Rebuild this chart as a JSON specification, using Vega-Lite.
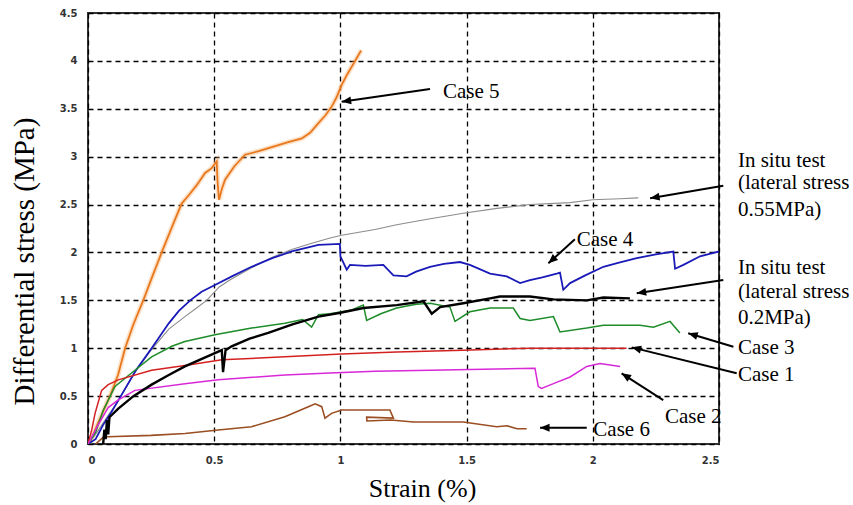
{
  "$schema": "https://vega.github.io/schema/vega-lite/v6.json",
  "width": 631,
  "height": 431,
  "autosize": {"type": "none"},
  "padding": {"left": 88, "top": 13, "right": 134, "bottom": 61},
  "background": "white",
  "config": {
    "view": {"stroke": "#333333", "strokeWidth": 2},
    "axis": {
      "grid": true,
      "gridColor": "#000000",
      "gridDash": [5, 4],
      "gridWidth": 1.3,
      "gridOpacity": 1,
      "domain": false,
      "ticks": false,
      "labelFont": "DejaVu Sans",
      "labelFontWeight": "bold",
      "labelFontSize": 10,
      "labelColor": "#333333",
      "titleFont": "Liberation Serif",
      "titleFontWeight": "normal",
      "titleColor": "#000000"
    }
  },
  "datasets": {
    "curves": [
      {"s": "Case 5", "i": 1, "x": 0, "y": 0}, {"s": "Case 5", "i": 2, "x": 0.008, "y": 0.02}, {"s": "Case 5", "i": 3, "x": 0.04, "y": 0.22}, {"s": "Case 5", "i": 4, "x": 0.087, "y": 0.5}, {"s": "Case 5", "i": 5, "x": 0.119, "y": 0.72}, {"s": "Case 5", "i": 6, "x": 0.147, "y": 1.0}, {"s": "Case 5", "i": 7, "x": 0.18, "y": 1.25}, {"s": "Case 5", "i": 8, "x": 0.219, "y": 1.5}, {"s": "Case 5", "i": 9, "x": 0.255, "y": 1.75}, {"s": "Case 5", "i": 10, "x": 0.292, "y": 2.0}, {"s": "Case 5", "i": 11, "x": 0.338, "y": 2.3}, {"s": "Case 5", "i": 12, "x": 0.371, "y": 2.51}, {"s": "Case 5", "i": 13, "x": 0.4, "y": 2.6}, {"s": "Case 5", "i": 14, "x": 0.43, "y": 2.7}, {"s": "Case 5", "i": 15, "x": 0.464, "y": 2.83}, {"s": "Case 5", "i": 16, "x": 0.49, "y": 2.88}, {"s": "Case 5", "i": 17, "x": 0.51, "y": 2.95}, {"s": "Case 5", "i": 18, "x": 0.513, "y": 2.75}, {"s": "Case 5", "i": 19, "x": 0.519, "y": 2.55}, {"s": "Case 5", "i": 20, "x": 0.53, "y": 2.66}, {"s": "Case 5", "i": 21, "x": 0.543, "y": 2.76}, {"s": "Case 5", "i": 22, "x": 0.58, "y": 2.9}, {"s": "Case 5", "i": 23, "x": 0.622, "y": 3.02}, {"s": "Case 5", "i": 24, "x": 0.68, "y": 3.06}, {"s": "Case 5", "i": 25, "x": 0.728, "y": 3.1}, {"s": "Case 5", "i": 26, "x": 0.79, "y": 3.15}, {"s": "Case 5", "i": 27, "x": 0.847, "y": 3.19}, {"s": "Case 5", "i": 28, "x": 0.88, "y": 3.25}, {"s": "Case 5", "i": 29, "x": 0.913, "y": 3.35}, {"s": "Case 5", "i": 30, "x": 0.94, "y": 3.43}, {"s": "Case 5", "i": 31, "x": 0.965, "y": 3.52}, {"s": "Case 5", "i": 32, "x": 0.985, "y": 3.62}, {"s": "Case 5", "i": 33, "x": 1.005, "y": 3.75}, {"s": "Case 5", "i": 34, "x": 1.025, "y": 3.85}, {"s": "Case 5", "i": 35, "x": 1.045, "y": 3.94}, {"s": "Case 5", "i": 36, "x": 1.065, "y": 4.03}, {"s": "Case 5", "i": 37, "x": 1.082, "y": 4.11},

      {"s": "In situ 0.55", "i": 1, "x": 0, "y": 0}, {"s": "In situ 0.55", "i": 2, "x": 0.03, "y": 0.1}, {"s": "In situ 0.55", "i": 3, "x": 0.08, "y": 0.3}, {"s": "In situ 0.55", "i": 4, "x": 0.12, "y": 0.45}, {"s": "In situ 0.55", "i": 5, "x": 0.18, "y": 0.73}, {"s": "In situ 0.55", "i": 6, "x": 0.25, "y": 0.98}, {"s": "In situ 0.55", "i": 7, "x": 0.32, "y": 1.2}, {"s": "In situ 0.55", "i": 8, "x": 0.384, "y": 1.33}, {"s": "In situ 0.55", "i": 9, "x": 0.43, "y": 1.42}, {"s": "In situ 0.55", "i": 10, "x": 0.47, "y": 1.5}, {"s": "In situ 0.55", "i": 11, "x": 0.52, "y": 1.64}, {"s": "In situ 0.55", "i": 12, "x": 0.56, "y": 1.71}, {"s": "In situ 0.55", "i": 13, "x": 0.648, "y": 1.84}, {"s": "In situ 0.55", "i": 14, "x": 0.73, "y": 1.95}, {"s": "In situ 0.55", "i": 15, "x": 0.807, "y": 2.03}, {"s": "In situ 0.55", "i": 16, "x": 0.88, "y": 2.09}, {"s": "In situ 0.55", "i": 17, "x": 0.959, "y": 2.15}, {"s": "In situ 0.55", "i": 18, "x": 1.005, "y": 2.18}, {"s": "In situ 0.55", "i": 19, "x": 1.137, "y": 2.24}, {"s": "In situ 0.55", "i": 20, "x": 1.223, "y": 2.29}, {"s": "In situ 0.55", "i": 21, "x": 1.35, "y": 2.35}, {"s": "In situ 0.55", "i": 22, "x": 1.487, "y": 2.41}, {"s": "In situ 0.55", "i": 23, "x": 1.62, "y": 2.46}, {"s": "In situ 0.55", "i": 24, "x": 1.751, "y": 2.5}, {"s": "In situ 0.55", "i": 25, "x": 1.91, "y": 2.52}, {"s": "In situ 0.55", "i": 26, "x": 2.0, "y": 2.55}, {"s": "In situ 0.55", "i": 27, "x": 2.108, "y": 2.56}, {"s": "In situ 0.55", "i": 28, "x": 2.18, "y": 2.57},

      {"s": "Case 4", "i": 1, "x": 0, "y": 0}, {"s": "Case 4", "i": 2, "x": 0.03, "y": 0.05}, {"s": "Case 4", "i": 3, "x": 0.06, "y": 0.2}, {"s": "Case 4", "i": 4, "x": 0.09, "y": 0.32}, {"s": "Case 4", "i": 5, "x": 0.13, "y": 0.5}, {"s": "Case 4", "i": 6, "x": 0.19, "y": 0.77}, {"s": "Case 4", "i": 7, "x": 0.252, "y": 1.0}, {"s": "Case 4", "i": 8, "x": 0.32, "y": 1.26}, {"s": "Case 4", "i": 9, "x": 0.36, "y": 1.39}, {"s": "Case 4", "i": 10, "x": 0.405, "y": 1.5}, {"s": "Case 4", "i": 11, "x": 0.45, "y": 1.59}, {"s": "Case 4", "i": 12, "x": 0.503, "y": 1.66}, {"s": "Case 4", "i": 13, "x": 0.57, "y": 1.75}, {"s": "Case 4", "i": 14, "x": 0.648, "y": 1.85}, {"s": "Case 4", "i": 15, "x": 0.73, "y": 1.94}, {"s": "Case 4", "i": 16, "x": 0.807, "y": 2.01}, {"s": "Case 4", "i": 17, "x": 0.913, "y": 2.08}, {"s": "Case 4", "i": 18, "x": 0.998, "y": 2.09}, {"s": "Case 4", "i": 19, "x": 1.0, "y": 1.96}, {"s": "Case 4", "i": 20, "x": 1.025, "y": 1.82}, {"s": "Case 4", "i": 21, "x": 1.038, "y": 1.87}, {"s": "Case 4", "i": 22, "x": 1.1, "y": 1.86}, {"s": "Case 4", "i": 23, "x": 1.17, "y": 1.87}, {"s": "Case 4", "i": 24, "x": 1.21, "y": 1.76}, {"s": "Case 4", "i": 25, "x": 1.262, "y": 1.75}, {"s": "Case 4", "i": 26, "x": 1.3, "y": 1.8}, {"s": "Case 4", "i": 27, "x": 1.355, "y": 1.85}, {"s": "Case 4", "i": 28, "x": 1.41, "y": 1.88}, {"s": "Case 4", "i": 29, "x": 1.474, "y": 1.9}, {"s": "Case 4", "i": 30, "x": 1.513, "y": 1.87}, {"s": "Case 4", "i": 31, "x": 1.593, "y": 1.78}, {"s": "Case 4", "i": 32, "x": 1.659, "y": 1.75}, {"s": "Case 4", "i": 33, "x": 1.712, "y": 1.68}, {"s": "Case 4", "i": 34, "x": 1.751, "y": 1.71}, {"s": "Case 4", "i": 35, "x": 1.8, "y": 1.74}, {"s": "Case 4", "i": 36, "x": 1.857, "y": 1.78}, {"s": "Case 4", "i": 37, "x": 1.87, "y": 1.79}, {"s": "Case 4", "i": 38, "x": 1.883, "y": 1.61}, {"s": "Case 4", "i": 39, "x": 1.91, "y": 1.68}, {"s": "Case 4", "i": 40, "x": 1.97, "y": 1.76}, {"s": "Case 4", "i": 41, "x": 2.042, "y": 1.85}, {"s": "Case 4", "i": 42, "x": 2.1, "y": 1.89}, {"s": "Case 4", "i": 43, "x": 2.174, "y": 1.94}, {"s": "Case 4", "i": 44, "x": 2.25, "y": 1.98}, {"s": "Case 4", "i": 45, "x": 2.319, "y": 2.01}, {"s": "Case 4", "i": 46, "x": 2.326, "y": 1.83}, {"s": "Case 4", "i": 47, "x": 2.359, "y": 1.87}, {"s": "Case 4", "i": 48, "x": 2.425, "y": 1.96}, {"s": "Case 4", "i": 49, "x": 2.5, "y": 2.01},

      {"s": "Case 3", "i": 1, "x": 0, "y": 0}, {"s": "Case 3", "i": 2, "x": 0.03, "y": 0.12}, {"s": "Case 3", "i": 3, "x": 0.06, "y": 0.35}, {"s": "Case 3", "i": 4, "x": 0.107, "y": 0.6}, {"s": "Case 3", "i": 5, "x": 0.186, "y": 0.77}, {"s": "Case 3", "i": 6, "x": 0.252, "y": 0.91}, {"s": "Case 3", "i": 7, "x": 0.332, "y": 1.02}, {"s": "Case 3", "i": 8, "x": 0.384, "y": 1.07}, {"s": "Case 3", "i": 9, "x": 0.503, "y": 1.14}, {"s": "Case 3", "i": 10, "x": 0.648, "y": 1.21}, {"s": "Case 3", "i": 11, "x": 0.78, "y": 1.26}, {"s": "Case 3", "i": 12, "x": 0.85, "y": 1.3}, {"s": "Case 3", "i": 13, "x": 0.886, "y": 1.22}, {"s": "Case 3", "i": 14, "x": 0.913, "y": 1.35}, {"s": "Case 3", "i": 15, "x": 0.959, "y": 1.36}, {"s": "Case 3", "i": 16, "x": 1.045, "y": 1.4}, {"s": "Case 3", "i": 17, "x": 1.091, "y": 1.45}, {"s": "Case 3", "i": 18, "x": 1.104, "y": 1.29}, {"s": "Case 3", "i": 19, "x": 1.16, "y": 1.36}, {"s": "Case 3", "i": 20, "x": 1.223, "y": 1.42}, {"s": "Case 3", "i": 21, "x": 1.3, "y": 1.46}, {"s": "Case 3", "i": 22, "x": 1.355, "y": 1.47}, {"s": "Case 3", "i": 23, "x": 1.434, "y": 1.43}, {"s": "Case 3", "i": 24, "x": 1.454, "y": 1.28}, {"s": "Case 3", "i": 25, "x": 1.513, "y": 1.38}, {"s": "Case 3", "i": 26, "x": 1.593, "y": 1.42}, {"s": "Case 3", "i": 27, "x": 1.685, "y": 1.42}, {"s": "Case 3", "i": 28, "x": 1.712, "y": 1.31}, {"s": "Case 3", "i": 29, "x": 1.751, "y": 1.29}, {"s": "Case 3", "i": 30, "x": 1.844, "y": 1.33}, {"s": "Case 3", "i": 31, "x": 1.87, "y": 1.17}, {"s": "Case 3", "i": 32, "x": 1.976, "y": 1.21}, {"s": "Case 3", "i": 33, "x": 2.042, "y": 1.24}, {"s": "Case 3", "i": 34, "x": 2.187, "y": 1.24}, {"s": "Case 3", "i": 35, "x": 2.24, "y": 1.22}, {"s": "Case 3", "i": 36, "x": 2.306, "y": 1.28}, {"s": "Case 3", "i": 37, "x": 2.345, "y": 1.16},

      {"s": "Case 1", "i": 1, "x": 0, "y": 0}, {"s": "Case 1", "i": 2, "x": 0.015, "y": 0.15}, {"s": "Case 1", "i": 3, "x": 0.028, "y": 0.32}, {"s": "Case 1", "i": 4, "x": 0.054, "y": 0.56}, {"s": "Case 1", "i": 5, "x": 0.08, "y": 0.62}, {"s": "Case 1", "i": 6, "x": 0.12, "y": 0.67}, {"s": "Case 1", "i": 7, "x": 0.252, "y": 0.77}, {"s": "Case 1", "i": 8, "x": 0.384, "y": 0.82}, {"s": "Case 1", "i": 9, "x": 0.53, "y": 0.88}, {"s": "Case 1", "i": 10, "x": 0.78, "y": 0.91}, {"s": "Case 1", "i": 11, "x": 1.005, "y": 0.94}, {"s": "Case 1", "i": 12, "x": 1.223, "y": 0.96}, {"s": "Case 1", "i": 13, "x": 1.487, "y": 0.98}, {"s": "Case 1", "i": 14, "x": 1.751, "y": 1.0}, {"s": "Case 1", "i": 15, "x": 2.134, "y": 1.0},

      {"s": "Case 2", "i": 1, "x": 0, "y": 0}, {"s": "Case 2", "i": 2, "x": 0.04, "y": 0.2}, {"s": "Case 2", "i": 3, "x": 0.08, "y": 0.38}, {"s": "Case 2", "i": 4, "x": 0.12, "y": 0.46}, {"s": "Case 2", "i": 5, "x": 0.186, "y": 0.56}, {"s": "Case 2", "i": 6, "x": 0.384, "y": 0.63}, {"s": "Case 2", "i": 7, "x": 0.516, "y": 0.67}, {"s": "Case 2", "i": 8, "x": 0.78, "y": 0.72}, {"s": "Case 2", "i": 9, "x": 0.959, "y": 0.74}, {"s": "Case 2", "i": 10, "x": 1.137, "y": 0.76}, {"s": "Case 2", "i": 11, "x": 1.355, "y": 0.77}, {"s": "Case 2", "i": 12, "x": 1.771, "y": 0.79}, {"s": "Case 2", "i": 13, "x": 1.784, "y": 0.6}, {"s": "Case 2", "i": 14, "x": 1.797, "y": 0.58}, {"s": "Case 2", "i": 15, "x": 1.844, "y": 0.63}, {"s": "Case 2", "i": 16, "x": 1.91, "y": 0.7}, {"s": "Case 2", "i": 17, "x": 1.976, "y": 0.81}, {"s": "Case 2", "i": 18, "x": 2.029, "y": 0.84}, {"s": "Case 2", "i": 19, "x": 2.108, "y": 0.81},

      {"s": "Case 6", "i": 1, "x": 0.03, "y": 0.0}, {"s": "Case 6", "i": 2, "x": 0.06, "y": 0.07}, {"s": "Case 6", "i": 3, "x": 0.08, "y": 0.076}, {"s": "Case 6", "i": 4, "x": 0.25, "y": 0.09}, {"s": "Case 6", "i": 5, "x": 0.384, "y": 0.11}, {"s": "Case 6", "i": 6, "x": 0.516, "y": 0.146}, {"s": "Case 6", "i": 7, "x": 0.648, "y": 0.18}, {"s": "Case 6", "i": 8, "x": 0.78, "y": 0.285}, {"s": "Case 6", "i": 9, "x": 0.873, "y": 0.39}, {"s": "Case 6", "i": 10, "x": 0.9, "y": 0.42}, {"s": "Case 6", "i": 11, "x": 0.926, "y": 0.39}, {"s": "Case 6", "i": 12, "x": 0.939, "y": 0.27}, {"s": "Case 6", "i": 13, "x": 0.965, "y": 0.32}, {"s": "Case 6", "i": 14, "x": 1.005, "y": 0.355}, {"s": "Case 6", "i": 15, "x": 1.196, "y": 0.355}, {"s": "Case 6", "i": 16, "x": 1.21, "y": 0.27}, {"s": "Case 6", "i": 17, "x": 1.104, "y": 0.28}, {"s": "Case 6", "i": 18, "x": 1.105, "y": 0.24}, {"s": "Case 6", "i": 19, "x": 1.2, "y": 0.25}, {"s": "Case 6", "i": 20, "x": 1.289, "y": 0.23}, {"s": "Case 6", "i": 21, "x": 1.487, "y": 0.23}, {"s": "Case 6", "i": 22, "x": 1.619, "y": 0.18}, {"s": "Case 6", "i": 23, "x": 1.66, "y": 0.19}, {"s": "Case 6", "i": 24, "x": 1.7, "y": 0.16}, {"s": "Case 6", "i": 25, "x": 1.738, "y": 0.16},

      {"s": "In situ 0.2", "i": 1, "x": 0.06, "y": 0}, {"s": "In situ 0.2", "i": 2, "x": 0.065, "y": 0.15}, {"s": "In situ 0.2", "i": 3, "x": 0.07, "y": 0.05}, {"s": "In situ 0.2", "i": 4, "x": 0.075, "y": 0.25}, {"s": "In situ 0.2", "i": 5, "x": 0.08, "y": 0.1}, {"s": "In situ 0.2", "i": 6, "x": 0.085, "y": 0.28}, {"s": "In situ 0.2", "i": 7, "x": 0.12, "y": 0.37}, {"s": "In situ 0.2", "i": 8, "x": 0.18, "y": 0.5}, {"s": "In situ 0.2", "i": 9, "x": 0.252, "y": 0.62}, {"s": "In situ 0.2", "i": 10, "x": 0.32, "y": 0.72}, {"s": "In situ 0.2", "i": 11, "x": 0.384, "y": 0.81}, {"s": "In situ 0.2", "i": 12, "x": 0.46, "y": 0.9}, {"s": "In situ 0.2", "i": 13, "x": 0.53, "y": 0.98}, {"s": "In situ 0.2", "i": 14, "x": 0.535, "y": 0.75}, {"s": "In situ 0.2", "i": 15, "x": 0.545, "y": 0.98}, {"s": "In situ 0.2", "i": 16, "x": 0.569, "y": 1.02}, {"s": "In situ 0.2", "i": 17, "x": 0.64, "y": 1.1}, {"s": "In situ 0.2", "i": 18, "x": 0.714, "y": 1.16}, {"s": "In situ 0.2", "i": 19, "x": 0.81, "y": 1.25}, {"s": "In situ 0.2", "i": 20, "x": 0.913, "y": 1.33}, {"s": "In situ 0.2", "i": 21, "x": 1.0, "y": 1.37}, {"s": "In situ 0.2", "i": 22, "x": 1.091, "y": 1.42}, {"s": "In situ 0.2", "i": 23, "x": 1.223, "y": 1.45}, {"s": "In situ 0.2", "i": 24, "x": 1.329, "y": 1.49}, {"s": "In situ 0.2", "i": 25, "x": 1.362, "y": 1.36}, {"s": "In situ 0.2", "i": 26, "x": 1.395, "y": 1.43}, {"s": "In situ 0.2", "i": 27, "x": 1.487, "y": 1.47}, {"s": "In situ 0.2", "i": 28, "x": 1.593, "y": 1.52}, {"s": "In situ 0.2", "i": 29, "x": 1.632, "y": 1.54}, {"s": "In situ 0.2", "i": 30, "x": 1.751, "y": 1.54}, {"s": "In situ 0.2", "i": 31, "x": 1.844, "y": 1.51}, {"s": "In situ 0.2", "i": 32, "x": 1.976, "y": 1.5}, {"s": "In situ 0.2", "i": 33, "x": 2.042, "y": 1.53}, {"s": "In situ 0.2", "i": 34, "x": 2.147, "y": 1.52}
    ],
    "arrows": [
      {"a": "Case 5", "x": 1.355, "y": 3.706, "tx": 1.005, "ty": 3.573},
      {"a": "In situ 0.55", "x": 2.517, "y": 2.696, "tx": 2.227, "ty": 2.565},
      {"a": "Case 4", "x": 1.929, "y": 2.137, "tx": 1.824, "ty": 1.886},
      {"a": "In situ 0.2", "x": 2.517, "y": 1.712, "tx": 2.174, "ty": 1.573},
      {"a": "Case 3", "x": 2.557, "y": 1.016, "tx": 2.378, "ty": 1.156},
      {"a": "Case 1", "x": 2.57, "y": 0.738, "tx": 2.154, "ty": 1.009},
      {"a": "Case 2", "x": 2.279, "y": 0.459, "tx": 2.114, "ty": 0.738},
      {"a": "Case 6", "x": 1.976, "y": 0.17, "tx": 1.791, "ty": 0.17}
    ],
    "labels": [
      {"t": "Case 5", "x": 1.4065, "y": 3.674},
      {"t": "In situ test", "x": 2.575, "y": 2.957},
      {"t": "(lateral stress", "x": 2.575, "y": 2.721},
      {"t": "0.55MPa)", "x": 2.575, "y": 2.443},
      {"t": "Case 4", "x": 1.936, "y": 2.129},
      {"t": "In situ test", "x": 2.575, "y": 1.834},
      {"t": "(lateral stress", "x": 2.575, "y": 1.59},
      {"t": "0.2MPa)", "x": 2.575, "y": 1.312},
      {"t": "Case 3", "x": 2.575, "y": 0.999},
      {"t": "Case 1", "x": 2.575, "y": 0.72},
      {"t": "Case 2", "x": 2.286, "y": 0.285},
      {"t": "Case 6", "x": 2.002, "y": 0.146}
    ]
  },
  "layer": [
    {
      "data": {"name": "curves"},
      "transform": [{"filter": "datum.s === 'Case 5'"}],
      "mark": {"type": "line", "strokeWidth": 5, "color": "#f5a860", "opacity": 0.35, "clip": true},
      "encoding": {
        "x": {
          "field": "x", "type": "quantitative",
          "scale": {"domain": [0, 2.5], "nice": false, "zero": false},
          "axis": {
            "values": [0, 0.5, 1, 1.5, 2, 2.5],
            "format": "~g",
            "labelPadding": 11,
            "title": "Strain (%)",
            "titleFont": "Liberation Serif",
            "titleFontSize": 26,
            "titleX": 334,
            "titleY": 52,
            "titleAnchor": null,
            "titleAlign": "center",
            "titleBaseline": "alphabetic"
          }
        },
        "y": {
          "field": "y", "type": "quantitative",
          "scale": {"domain": [0, 4.5], "nice": false, "zero": false},
          "axis": {
            "values": [0, 0.5, 1, 1.5, 2, 2.5, 3, 3.5, 4, 4.5],
            "format": "~g",
            "labelPadding": 11,
            "title": "Differential stress (MPa)",
            "titleFont": "Liberation Serif",
            "titleFontSize": 29,
            "titleAngle": -90,
            "titleX": -55,
            "titleY": 248,
            "titleAlign": "center",
            "titleBaseline": "alphabetic"
          }
        },
        "order": {"field": "i", "type": "quantitative"}
      }
    },
    {
      "data": {"name": "curves"},
      "mark": {"type": "line", "clip": true},
      "encoding": {
        "x": {"field": "x", "type": "quantitative"},
        "y": {"field": "y", "type": "quantitative"},
        "order": {"field": "i", "type": "quantitative"},
        "detail": {"field": "s"},
        "color": {
          "field": "s", "type": "nominal", "legend": null,
          "scale": {
            "domain": ["Case 5", "In situ 0.55", "Case 4", "Case 3", "Case 1", "Case 2", "Case 6", "In situ 0.2"],
            "range": ["#e8781e", "#8c8c8c", "#1a1ab8", "#1e8c2a", "#d42020", "#d828d8", "#9a4e22", "#000000"]
          }
        },
        "strokeWidth": {
          "field": "s", "type": "nominal", "legend": null,
          "scale": {
            "type": "ordinal",
            "domain": ["Case 5", "In situ 0.55", "Case 4", "Case 3", "Case 1", "Case 2", "Case 6", "In situ 0.2"],
            "range": [1.8, 1.1, 1.8, 1.5, 1.5, 1.5, 1.6, 2.4]
          }
        }
      }
    },
    {
      "data": {"name": "arrows"},
      "mark": {"type": "rule", "color": "#000000", "strokeWidth": 2},
      "encoding": {
        "x": {"field": "x", "type": "quantitative"},
        "y": {"field": "y", "type": "quantitative"},
        "x2": {"field": "tx"},
        "y2": {"field": "ty"}
      }
    },
    {
      "data": {"name": "arrows"},
      "transform": [
        {"calculate": "atan2(-(datum.ty - datum.y) * 95.8, (datum.tx - datum.x) * 252.4) * 180 / PI", "as": "ang"}
      ],
      "mark": {"type": "point", "shape": "M0,0 L-1.2,-0.5 L-1.2,0.5 Z", "filled": true, "color": "#000000", "opacity": 1, "size": 250},
      "encoding": {
        "x": {"field": "tx", "type": "quantitative"},
        "y": {"field": "ty", "type": "quantitative"},
        "angle": {"field": "ang", "type": "quantitative", "scale": null}
      }
    },
    {
      "data": {"name": "labels"},
      "mark": {"type": "text", "font": "Liberation Serif", "fontSize": 21, "align": "left", "baseline": "middle", "color": "#000000"},
      "encoding": {
        "x": {"field": "x", "type": "quantitative"},
        "y": {"field": "y", "type": "quantitative"},
        "text": {"field": "t"}
      }
    }
  ]
}
